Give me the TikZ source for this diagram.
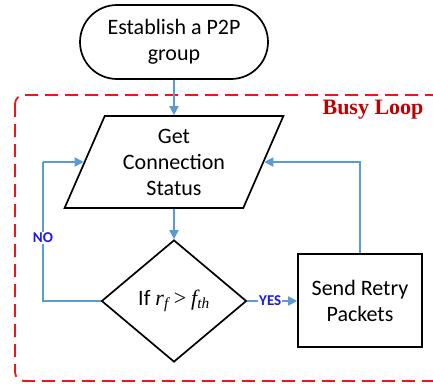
\documentclass[tikz,border=0pt]{standalone}
\usepackage{fontspec}
\setmainfont{Carlito}
\newfontfamily\timesfont{Liberation Serif}
\usetikzlibrary{shapes.geometric,shapes.misc,arrows.meta,calc}
\definecolor{lineblue}{RGB}{91,155,213}
\definecolor{busyred}{RGB}{192,0,0}
\definecolor{labelblue}{RGB}{25,25,235}
\definecolor{dashred}{RGB}{240,20,30}
\tikzset{
  body/.style={draw=black, line width=1.7pt, align=center, inner sep=0pt,
    font=\fontsize{22}{26}\selectfont},
  flow/.style={draw=lineblue, line width=1.8pt, -{Triangle[length=9pt,width=9pt]}},
  flowplain/.style={draw=lineblue, line width=1.8pt},
  lbl/.style={text=labelblue, font=\fontsize{15}{16}\selectfont\bfseries, fill=white, inner sep=1pt},
}
\begin{document}
\begin{tikzpicture}[x=1pt,y=-1pt]
\useasboundingbox (0,0) rectangle (433,388);
% busy loop frame
\draw[dashred, line width=1.8pt, dash pattern=on 13pt off 7pt, rounded corners=9pt]
  (15,95) rectangle (441,381);
\node[text=busyred, font=\timesfont\bfseries\fontsize{22}{24}\selectfont, anchor=east] (busy) at (427,110) {Busy Loop};
% nodes
\node[body, rounded rectangle, minimum width=188pt, minimum height=74pt] (start) at (174,42) {Establish a P2P\\group};
\node[body, trapezium, trapezium left angle=66, trapezium right angle=114, trapezium stretches=true,
  minimum width=219pt, minimum height=92pt] (par) at (174,162) {Get\\Connection\\Status};
\node[body, diamond, minimum width=145pt, minimum height=122pt, aspect=1.19] (dec) at (174,301)
  {If {\timesfont\itshape r\textsubscript{f}} {\timesfont >} {\timesfont\itshape f\textsubscript{th}}};
\node[body, rectangle, minimum width=124pt, minimum height=93pt] (retry) at (360,300.5) {Send Retry\\Packets};
\coordinate (noturn) at (43,162);
% connectors
\draw[flow] (start) -- (par);
\draw[flow] (par) -- (dec);
\draw[flow] (dec.east) -- (retry.west|-dec.east) node[lbl, midway, xshift=-2pt] (yes) {YES};
\draw[flow] (retry.north) |- (par);
\draw[flowplain] (dec.west) -| (noturn);
\draw[flow] (noturn) -- (par);
\node[lbl] (no) at (43,238) {NO};
\end{tikzpicture}
\end{document}
